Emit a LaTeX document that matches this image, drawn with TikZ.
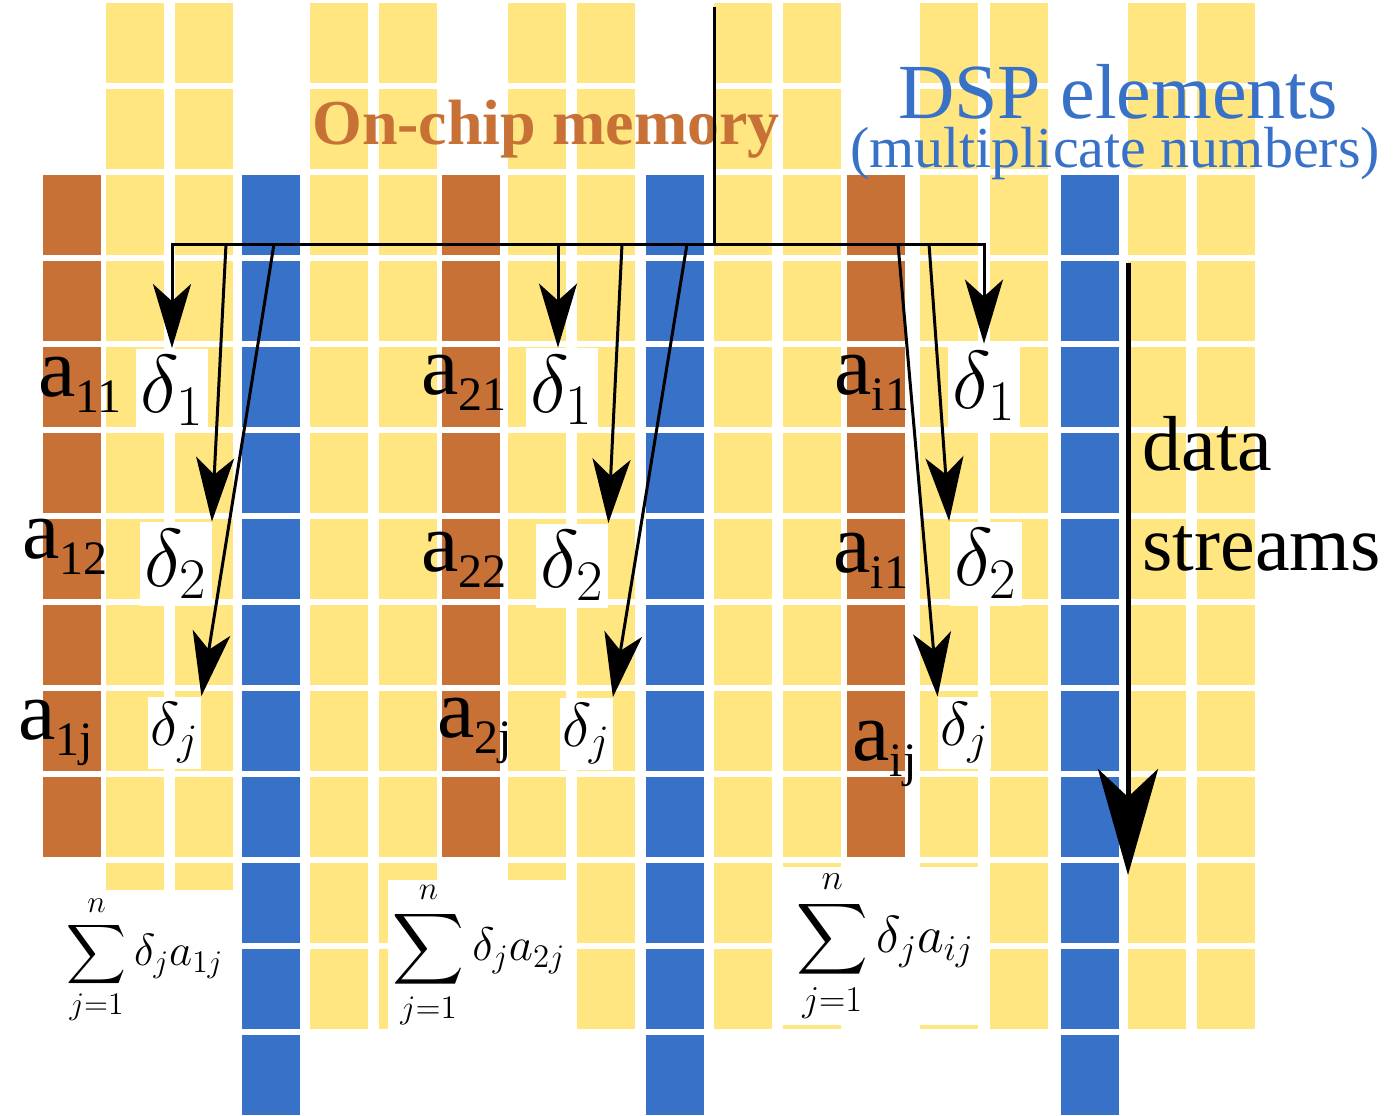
\RequirePackage{fix-cm}
\documentclass[tikz,border=0pt]{standalone}
\usepackage{amsmath}
\usepackage{fontspec}
\setmainfont{Liberation Serif}
\usepackage{xcolor}
\usetikzlibrary{arrows.meta, positioning, calc}

\definecolor{cellyellow}{HTML}{FFE680}
\definecolor{cellbrown}{HTML}{C87137}
\definecolor{cellblue}{HTML}{3771C8}

% one column of cells, rows #2 to #3, top of row r at 3+86r
\newcommand{\cellcolumn}[4]{%
  \foreach \row in {#2,...,#3} {\fill[#4] (#1,{3+86*\row}) rectangle ++(58,80);}%
}
% matrix entry with lowered index
\newcommand{\asub}[1]{a\raisebox{-8pt}{\fontsize{24}{24}\selectfont #1}}

\begin{document}
\begin{tikzpicture}[x=0.5pt, y=-0.5pt,
    bus/.style={line width=1.5pt},
    feed/.style={line width=1.5pt, -{Stealth[length=32pt, width=19pt, inset=8.5pt]}},
    stream/.style={line width=2.5pt, -{Stealth[length=53pt, width=30pt, inset=14pt]}},
    dbox/.style={fill=white, inner sep=0pt, minimum width=36pt, minimum height=42pt, font=\fontsize{41}{41}\selectfont},
    djbox/.style={fill=white, inner sep=0pt, minimum width=26.5pt, minimum height=36pt, font=\fontsize{31}{31}\selectfont},
    sumbox/.style={fill=white, inner sep=0pt},
    alab/.style={anchor=base west, inner sep=0pt, font=\fontsize{42}{42}\selectfont}]

    % Background and size
    \fill[white] (0,0) rectangle (1399,1115);
    \useasboundingbox (0,0) rectangle (1399,1115);

    % Memory columns
    \foreach \x in {43,442,847} {\cellcolumn{\x}{2}{9}{cellbrown}}
    % DSP columns
    \foreach \x in {242,646,1061} {\cellcolumn{\x}{2}{12}{cellblue}}
    % Remaining columns
    \foreach \x in {106,175,310,379,508,577,714,783,920,990,1128,1197} {\cellcolumn{\x}{0}{11}{cellyellow}}

    % Titles
    \node[anchor=base, text=cellbrown, font=\bfseries\fontsize{32}{32}\selectfont] (memtitle) at (546,144) {On-chip memory};
    \node[anchor=base, text=cellblue, font=\fontsize{39}{39}\selectfont] (dsptitle) at (1118,118) {DSP elements};
    \node[anchor=base, text=cellblue, font=\fontsize{29}{29}\selectfont] (dspnote) at (1115,167) {(multiplicate numbers)};

    % Matrix entries
    \node[alab] (a11) at (38,396) {\asub{11}};
    \node[alab] (a12) at (22,558) {\asub{12}};
    \node[alab] (a1j) at (18,739) {\asub{1j}};
    \node[alab] (a21) at (421,394) {\asub{21}};
    \node[alab] (a22) at (421,571) {\asub{22}};
    \node[alab] (a2j) at (437,737) {\asub{2j}};
    \node[alab] (ai1) at (834,394) {\asub{i1}};
    \node[alab] (ai2) at (833,572) {\asub{i1}};
    \node[alab] (aij) at (852,760) {\asub{ij}};

    % Deltas
    \node[dbox] (d11) at (172,390.5) {$\delta_1$};
    \node[dbox] (d12) at (175.5,564) {$\delta_2$};
    \node[djbox] (d1j) at (174.5,732.5) {$\delta_j$};
    \node[dbox] (d21) at (561.5,390) {$\delta_1$};
    \node[dbox] (d22) at (572,565.5) {$\delta_2$};
    \node[djbox] (d2j) at (586,733.5) {$\delta_j$};
    \node[dbox] (di1) at (984,386) {$\delta_1$};
    \node[dbox] (di2) at (985.5,563.5) {$\delta_2$};
    \node[djbox] (dij) at (964.5,733) {$\delta_j$};

    % Sums
    \node[sumbox, minimum width=90pt, minimum height=70pt, font=\fontsize{22.5}{22.5}\selectfont] (sum1) at (145,960)
        {$\displaystyle\sum_{j=1}^{n}\delta_j a_{1j}$};
    \node[sumbox, minimum width=91pt, minimum height=75pt, font=\fontsize{23.5}{23.5}\selectfont] (sum2) at (479,955)
        {$\displaystyle\sum_{j=1}^{n}\delta_j a_{2j}$};
    \node[sumbox, minimum width=102pt, minimum height=79pt, font=\fontsize{26}{26}\selectfont] (sum3) at (885,946)
        {$\displaystyle\sum_{j=1}^{n}\delta_j a_{ij}$};

    % Bus
    \coordinate (feedtop) at (714,7);
    \coordinate (hub) at (714,244);
    \coordinate (f12) at (226,244);
    \coordinate (f1j) at (274,244);
    \coordinate (f21) at (558,244);
    \coordinate (f22) at (622,244);
    \coordinate (f2j) at (687,244);
    \coordinate (fij) at (898,244);
    \coordinate (fi2) at (929,244);

    \draw[bus] (feedtop) -- (hub);
    \draw[feed] (hub) -| (d11.north);
    \draw[feed] (hub) -| (di1.north);
    \draw[feed] (f12) -- (d12.north east);
    \draw[feed] (f1j) -- (d1j.north east);
    \draw[feed] (f21) -- (f21 |- d21.north);
    \draw[feed] (f22) -- (d22.north east);
    \draw[feed] (f2j) -- (d2j.north east);
    \draw[feed] (fi2) -- (di2.north west);
    \draw[feed] (fij) -- (dij.north west);

    % Data streams
    \coordinate (dstop) at (1128,263);
    \coordinate (dsend) at (1128,875);
    \draw[stream] (dstop) -- (dsend);
    \node[anchor=base west, inner sep=0pt, font=\fontsize{39}{39}\selectfont] (datalbl) at (1142,470) {data};
    \node[anchor=base west, inner sep=0pt, font=\fontsize{39}{39}\selectfont] (streamlbl) at (1142,570) {streams};
\end{tikzpicture}
\end{document}
